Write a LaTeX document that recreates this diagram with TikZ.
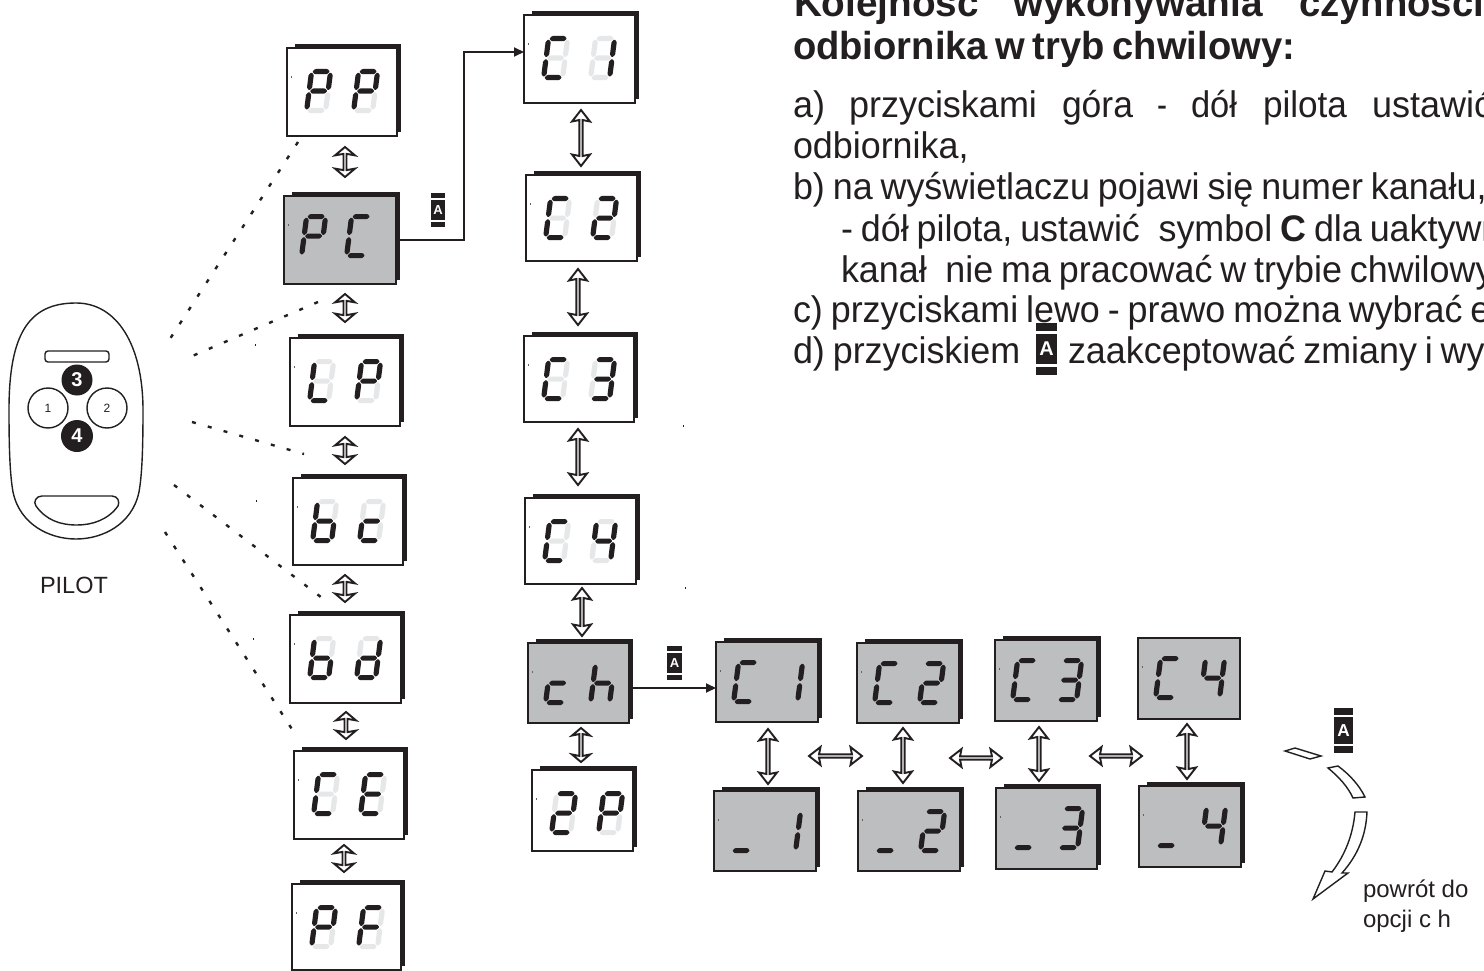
\documentclass[tikz,border=0pt]{standalone}
\usepackage{fontspec}
\setmainfont{Liberation Sans}
\usepackage{graphicx}
\usetikzlibrary{arrows.meta,shapes.arrows}
\definecolor{ink}{HTML}{231F20}
\definecolor{lcd}{HTML}{BCBEC0}
\definecolor{ghostc}{HTML}{E6E7E8}
\newif\ifghostseg
\newif\ifshadowed
\makeatletter
\newcommand\segcol[1]{\edef\tmpa{\noexpand\in@{#1}{\curlit}}\tmpa
  \ifin@ \def\segstyle{seglit}\def\segon{1}%
  \else \def\segstyle{segoff}\ifghostseg\def\segon{1}\else\def\segon{0}\fi
  \fi}
\makeatother
% horizontal segment: letter, u1, u2, v
\newcommand\sgh[4]{\segcol{#1}\if1\segon
  \fill[\segstyle] (#2,#4) -- ({#2+2.6},{#4-2.6}) -- ({#3-2.6},{#4-2.6}) -- (#3,#4) -- ({#3-2.6},{#4+2.6}) -- ({#2+2.6},{#4+2.6}) -- cycle;\fi}
% vertical segment: letter, u, v1, v2
\newcommand\sgv[4]{\segcol{#1}\if1\segon
  \fill[\segstyle] (#2,#3) -- ({#2+2.6},{#3+2.6}) -- ({#2+2.6},{#4-2.6}) -- (#2,#4) -- ({#2-2.6},{#4-2.6}) -- ({#2-2.6},{#3+2.6}) -- cycle;\fi}
\newcommand\dgt[3]{\def\curlit{#3}%
  \begin{scope}[shift={({#1+7.6},{#2+2.6})},xslant=0.128]
    \sgh{a}{0.7}{18.3}{0}
    \sgv{b}{19}{0.7}{18.8}
    \sgv{c}{19}{20.2}{38.3}
    \sgh{d}{0.7}{18.3}{39}
    \sgv{e}{0}{20.2}{38.3}
    \sgv{f}{0}{0.7}{18.8}
    \sgh{g}{0.7}{18.3}{19.5}
  \end{scope}}
% name, x1, y1, x2, y2, style, offsets, lit1, lit2
\newcommand\panel[9]{%
  \ifshadowed\fill[ink] ({#2+8},{#3-4}) rectangle ({#4+4},{#5-4});\fi
  \pgfmathsetmacro\pw{#4-#2}\pgfmathsetmacro\ph{#5-#3}%
  \node[#6,minimum width=\pw pt,minimum height=\ph pt] (#1) at ({(#2+#4)/2},{(#3+#5)/2}) {};
  \fill[ink!70] ({#2+4},{#3+28}) rectangle ({#2+5},{#3+30});
  \def\pxa{#2}\def\pya{#3}#7\panelrest{#8}{#9}}
\newcommand\panelrest[2]{\dgt{\pxa+\dxa}{\pya+\dya}{#1}\dgt{\pxa+\dxb}{\pya+\dya}{#2}}
\newcommand\wpanel[7]{\ghostsegtrue\shadowedtrue\panel{#1}{#2}{#3}{#4}{#5}{panelw}{\def\dxa{17}\def\dxb{64}\def\dya{21}}{#6}{#7}}
\newcommand\gpanel[7]{\ghostsegfalse\shadowedtrue\panel{#1}{#2}{#3}{#4}{#5}{panelg}{\def\dxa{15}\def\dxb{60}\def\dya{18}}{#6}{#7}}
\newcommand\gpanelflat[7]{\ghostsegfalse\shadowedfalse\panel{#1}{#2}{#3}{#4}{#5}{panelg}{\def\dxa{15}\def\dxb{60}\def\dya{18}}{#6}{#7}}
% vertical and horizontal hollow double arrows: name, fixed, from, to, width
\newcommand\dasetup[3]{\pgfmathsetmacro\al{#2-#1}\pgfmathsetmacro\ext{(#3-9.5)/2}\pgfmathsetmacro\tip{ifthenelse(\al<40,100,76)}}
\newcommand\vda[5]{\dasetup{#3}{#4}{#5}\node[dblarrow,minimum height=\al pt,minimum width=#5 pt,double arrow head extend=\ext pt,double arrow tip angle=\tip,rotate=90] (#1) at ({#2},{(#3+#4)/2}) {};}
\newcommand\hda[5]{\dasetup{#3}{#4}{#5}\node[dblarrow,minimum height=\al pt,minimum width=#5 pt,double arrow head extend=\ext pt,double arrow tip angle=\tip] (#1) at ({(#3+#4)/2},{#2}) {};}
% key badge: name, cx, cy, w, total h
\newcommand\badge[5]{\pgfmathsetmacro\bw{#4}\pgfmathsetmacro\bm{0.58*#5}\pgfmathsetmacro\bb{0.15*#5}\pgfmathsetmacro\bf{0.66*\bm}%
  \node[fill=ink,text=white,inner sep=0,minimum width=\bw pt,minimum height=\bm pt,font=\fontsize{\bf}{\bf}\selectfont\bfseries] (#1) at (#2,#3) {A};
  \fill[ink] ({#2-#4/2},{#3-#5/2}) rectangle ({#2+#4/2},{#3-#5/2+\bb});
  \fill[ink] ({#2-#4/2},{#3+#5/2-\bb}) rectangle ({#2+#4/2},{#3+#5/2});}
\newcommand\tline[4]{\node[txt] (#1) at (#2,#3) {\scalebox{0.97}[1]{\spaceskip=.22em\relax #4}};}
\newcommand\tword[5]{\node[txt] (#1) at (#2,#3) {\resizebox{#4pt}{\height}{#5}};}
\newcommand\speck[2]{\fill[ink] ({#1},{#2}) rectangle ({#1+1},{#2+2});}
\tikzset{
  panelw/.style={draw=ink,fill=white,line width=2pt,inner sep=0,outer sep=0},
  panelg/.style={draw=ink,fill=lcd,line width=2pt,inner sep=0,outer sep=0},
  seglit/.style={fill=ink,rounded corners=.7pt},
  segoff/.style={fill=ghostc,rounded corners=.7pt},
  dblarrow/.style={shape=double arrow,draw=ink,fill=white,line width=1.9pt,inner sep=0,outer sep=0,double arrow head indent=1.5pt},
  link/.style={draw=ink,line width=1.9pt,-{Triangle[length=10pt,width=9pt]}},
  dashline/.style={draw=ink,line width=2.4pt,dash pattern=on 4pt off 12.4pt},
  remote/.style={draw=ink,line width=1.4pt},
  back/.style={draw=ink,fill=white,line width=1.4pt},
  txt/.style={anchor=base west,inner sep=0,outer sep=0,text=ink,font=\fontsize{37}{37}\selectfont},
  small/.style={anchor=base west,inner sep=0,outer sep=0,text=ink,font=\fontsize{23.5}{23.5}\selectfont}
}
\begin{document}
\begin{tikzpicture}[x=1pt,y=-1pt]
\useasboundingbox (0,0) rectangle (1484,971);
\clip (0,0) rectangle (1484,971);
\fill[white] (0,0) rectangle (1484,971);

% left column
\wpanel{pp}{287}{48}{397}{136}{abefg}{abefg}
\gpanel{pc}{284}{196}{396}{284}{abefg}{afed}
\wpanel{lp}{290}{338}{400}{426}{fed}{abefg}
\wpanel{bc}{293}{478}{403}{565}{fedcg}{ged}
\wpanel{bd}{290}{615}{401}{703}{fedcg}{bcdeg}
\wpanel{ce}{294}{751}{404}{839}{afed}{afged}
\wpanel{pf}{292}{884}{401}{970}{abefg}{afge}
% middle column
\wpanel{ca}{524}{15}{635}{103}{afed}{bc}
\wpanel{cb}{526}{175}{637}{261}{afed}{abged}
\wpanel{cc}{524}{336}{634}{422}{afed}{abgcd}
\wpanel{cd}{525}{498}{636}{584}{afed}{fgbc}
\gpanel{ch}{528}{643}{629}{723}{ged}{fegc}
\wpanel{tp}{532}{770}{633}{851}{abged}{abefg}
% bottom row
\gpanel{ga}{716}{642}{818}{722}{afed}{bc}
\gpanel{gb}{857}{643}{959}{723}{afed}{abged}
\gpanel{gc}{995}{640}{1097}{721}{afed}{abgcd}
\gpanelflat{gd}{1138}{638}{1240}{719}{afed}{fgbc}
\gpanel{ua}{714}{791}{816}{871}{d}{bc}
\gpanel{ub}{858}{791}{960}{871}{d}{abged}
\gpanel{uc}{996}{788}{1097}{869}{d}{abgcd}
\gpanel{ud}{1139}{786}{1241}{867}{d}{fgbc}

% double arrows
\vda{a1}{345}{147}{177}{20}
\vda{a2}{345}{294}{322}{20}
\vda{a3}{345}{437}{464}{20}
\vda{a4}{345}{575}{602}{20}
\vda{a5}{346}{712}{739}{20}
\vda{a6}{344}{845}{872}{20}
\vda{b1}{581}{110}{166}{18}
\vda{b2}{578}{269}{325}{18}
\vda{b3}{578}{429}{485}{18}
\vda{b4}{582}{588}{636}{18}
\vda{b5}{581}{728}{762}{18}
\vda{v1}{768}{729}{784}{18}
\vda{v2}{903}{728}{783}{18}
\vda{v3}{1039}{727}{781}{18}
\vda{v4}{1187}{724}{779}{18}
\hda{h1}{756}{809}{862}{18}
\hda{h2}{758}{950}{1002}{18}
\hda{h3}{756}{1090}{1142}{18}

% connectors
\draw[link] (pc.east) -- ++(68,0) |- ([yshift=7pt]ca.west);
\draw[link] ([yshift=-5pt]ch.east) -- ([yshift=-6pt]ga.west);

% badges
\badge{ka}{438}{210}{14}{34}
\badge{kb}{674.5}{663}{15}{34}
\badge{kc}{1343.5}{730.5}{19}{45}
\badge{kd}{1046.5}{349}{21}{52}

% remote
\draw[remote] (76,303) .. controls (28,303) and (9,335) .. (9,410) .. controls (9,450) and (10,475) .. (13,492) .. controls (20,525) and (50,539) .. (76,539) .. controls (102,539) and (132,525) .. (139,492) .. controls (142,475) and (143,450) .. (143,410) .. controls (143,345) and (117,303) .. (76,303) -- cycle;
\draw[remote,rounded corners=3pt] (45,351) rectangle (109,362);
\node[remote,circle,fill=white,minimum size=40pt,inner sep=0,font=\fontsize{12}{12}\selectfont,text=ink] (b1key) at (48,408) {1};
\node[remote,circle,fill=white,minimum size=40pt,inner sep=0,font=\fontsize{12}{12}\selectfont,text=ink] (b2key) at (107,408) {2};
\node[circle,fill=ink,minimum size=31pt,inner sep=0,font=\fontsize{20}{20}\selectfont\bfseries,text=white] (b3key) at (77,380) {3};
\node[circle,fill=ink,minimum size=32pt,inner sep=0,font=\fontsize{20}{20}\selectfont\bfseries,text=white] (b4key) at (77,436) {4};
\draw[remote] (42,496) -- (112,496) .. controls (118,496) and (120,502) .. (118,506) .. controls (108,520) and (92,525) .. (77,525) .. controls (60,525) and (46,520) .. (36,506) .. controls (33,502) and (36,496) .. (42,496) -- cycle;
\node[small] (pilot) at (40,593) {PILOT};

% dashed leader lines
\coordinate (d1a) at (298,142); \coordinate (d1b) at (166,345);
\coordinate (d2a) at (318,302); \coordinate (d2b) at (183,360);
\coordinate (d3a) at (304,454); \coordinate (d3b) at (192,422);
\coordinate (d4a) at (330,604); \coordinate (d4b) at (174,485);
\coordinate (d5a) at (297,737); \coordinate (d5b) at (165,532);
\draw[dashline] (d1a) -- (d1b);
\draw[dashline] (d2a) -- (d2b);
\draw[dashline] (d3b) -- (d3a);
\draw[dashline] (d4b) -- (d4a);
\draw[dashline] (d5b) -- (d5a);
\speck{254.5}{344}\speck{255.5}{500}\speck{252.5}{638}\speck{683}{425}\speck{685}{587}

% return arrow
\draw[back] (1285,751) -- (1295,748) -- (1321,756) -- (1310,759) -- cycle;
\draw[back] (1328,768) -- (1338,766) .. controls (1350,775) and (1359,785) .. (1365,797) -- (1353,798) .. controls (1348,787) and (1339,777) .. (1328,768) -- cycle;
\draw[back] (1355,812) -- (1367,812) .. controls (1366,835) and (1358,855) .. (1342,873) -- (1348,873) -- (1313,899) -- (1325,871) -- (1332,872) .. controls (1345,855) and (1353,835) .. (1355,812) -- cycle;
\node[small,font=\fontsize{24}{24}\selectfont] (t1) at (1363,897) {powrót do};
\node[small,font=\fontsize{24}{24}\selectfont] (t2) at (1363,927) {opcji c h};

% heading
\tword{h1w}{794}{17}{185}{\fontsize{39}{39}\selectfont\bfseries Kolejność}
\tword{h2w}{1013}{17}{250}{\fontsize{39}{39}\selectfont\bfseries wykonywania}
\tword{h3w}{1299}{17}{185}{\fontsize{39}{39}\selectfont\bfseries czynności}
\tword{h4w}{793}{60}{502}{\fontsize{39}{39}\selectfont\bfseries\spaceskip=.2em\relax odbiornika w tryb chwilowy:}
% body
\tword{w1}{793}{118}{32}{a)}
\tword{w2}{849}{118}{188}{przyciskami}
\tword{w3}{1062}{118}{71}{góra}
\tword{w4}{1157}{118}{10}{-}
\tword{w5}{1191}{118}{46}{dół}
\tword{w6}{1263}{118}{84}{pilota}
\tword{w7}{1372}{118}{120}{ustawić}
\tline{l2}{793}{159}{odbiornika,}
\tline{l3}{793}{200}{b) na wyświetlaczu pojawi się numer kanału,}
\tline{l4}{841}{241}{- dół pilota, ustawić\hspace{.3em} symbol \textbf{C} dla uaktywn}
\tline{l5}{841}{282}{kanał\hspace{.3em} nie ma pracować w trybie chwilowy}
\tline{l6}{793}{322}{c) przyciskami lewo - prawo można wybrać e}
\tline{l7}{793}{363}{d) przyciskiem}
\tline{l8}{1068}{363}{zaakceptować zmiany i wy}
\end{tikzpicture}
\end{document}
